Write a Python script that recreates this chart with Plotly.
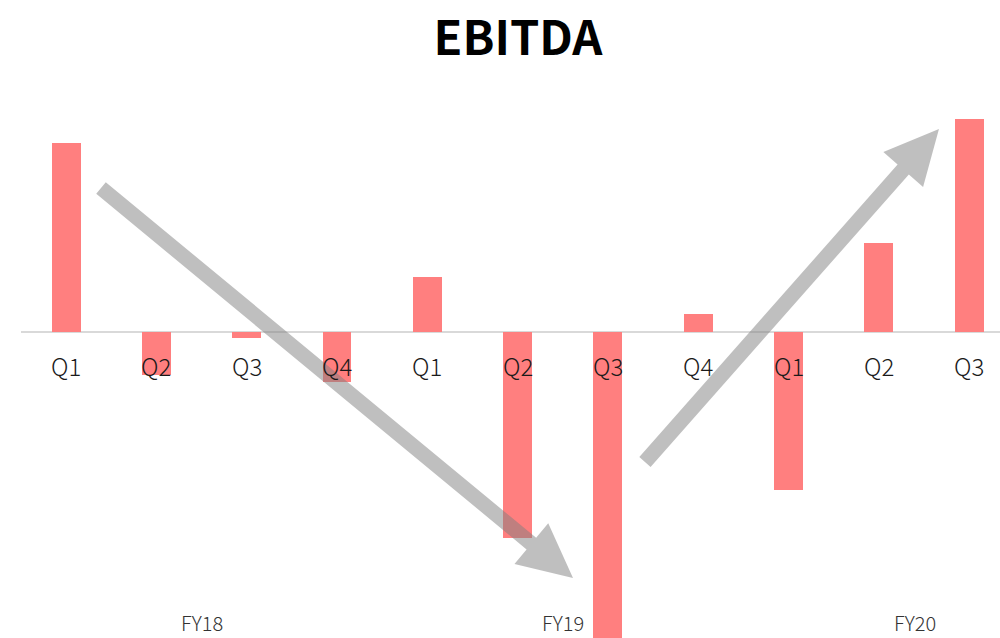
import numpy as np
import plotly.graph_objects as go

# Quarterly EBITDA (arbitrary units)
quarters = ["Q1", "Q2", "Q3", "Q4", "Q1", "Q2", "Q3", "Q4", "Q1", "Q2", "Q3"]
fiscal_years = ["FY18", "FY19", "FY20"]
ebitda = [189, -43, -6, -50, 55, -206, -340, 18, -158, 89, 213]

BAR_COLOR = "#FF7F7F"
ARROW_COLOR = "rgba(128,128,128,0.5)"
FONT = "Noto Sans CJK JP"

W, H = 1000, 638
M_L, M_R, M_T, M_B = 21, 0, 100, 0
X_RANGE = [-0.5, 10.342]
Y_RANGE = [-306, 232]

x_idx = np.arange(len(ebitda))

fig = go.Figure(
    go.Bar(
        x=x_idx,
        y=ebitda,
        width=0.32,
        marker=dict(color=BAR_COLOR, line=dict(width=0)),
        hoverinfo="skip",
    )
)

# pixel scale of the plot area, used to give the arrows a constant on-screen thickness
px_per_x = (W - M_L - M_R) / (X_RANGE[1] - X_RANGE[0])
px_per_y = (H - M_T - M_B) / (Y_RANGE[1] - Y_RANGE[0])


def arrow_path(start, tip, shaft=15.0, head_w=53.0, head_len=54.0):
    """Block arrow outline in data coordinates, sized in screen pixels."""
    sx, sy = start[0] * px_per_x, start[1] * px_per_y
    tx, ty = tip[0] * px_per_x, tip[1] * px_per_y
    d = np.array([tx - sx, ty - sy])
    u = d / np.linalg.norm(d)
    n = np.array([-u[1], u[0]])
    S = np.array([sx, sy])
    T = np.array([tx, ty])
    B = T - u * head_len
    pts = [
        S + n * shaft / 2,
        B + n * shaft / 2,
        B + n * head_w / 2,
        T,
        B - n * head_w / 2,
        B - n * shaft / 2,
        S - n * shaft / 2,
    ]
    coords = [(p[0] / px_per_x, p[1] / px_per_y) for p in pts]
    return "M " + " L ".join(f"{x:.4f},{y:.4f}" for x, y in coords) + " Z"


# trend arrows: decline into FY19 Q3, then recovery
arrows = [((0.386, 144), (5.613, -246)), ((6.41, -130), (9.666, 203))]
shapes = [
    dict(
        type="path",
        path=arrow_path(s, t),
        xref="x",
        yref="y",
        fillcolor=ARROW_COLOR,
        line=dict(width=0),
        layer="above",
    )
    for s, t in arrows
]

annotations = []
for i, q in zip(x_idx, quarters):
    annotations.append(
        dict(
            x=i, y=0, xref="x", yref="y", text=q, showarrow=False,
            yanchor="middle", yshift=-33,
            font=dict(family=FONT, size=24, color="#1a1a1a", weight=300),
        )
    )

fy_centers = [1.5, 5.5, 9.4]
for fy, cx in zip(fiscal_years, fy_centers):
    annotations.append(
        dict(
            x=cx, y=0, xref="x", yref="paper", text=fy, showarrow=False,
            yanchor="bottom", yshift=0, borderpad=0,
            font=dict(family=FONT, size=20, color="#333333", weight=300),
        )
    )

fig.update_layout(
    width=W,
    height=H,
    margin=dict(l=M_L, r=M_R, t=M_T, b=M_B, pad=0),
    paper_bgcolor="white",
    plot_bgcolor="white",
    showlegend=False,
    title=dict(
        text="<b>EBITDA</b>",
        x=0.518, xanchor="center", xref="container",
        y=1 - 39 / H, yanchor="middle", yref="container",
        font=dict(family=FONT, size=47, color="#000000"),
    ),
    xaxis=dict(
        range=X_RANGE, visible=False, showgrid=False, zeroline=False, fixedrange=True,
    ),
    yaxis=dict(
        range=Y_RANGE, showgrid=False, showticklabels=False, ticks="",
        zeroline=True, zerolinecolor="#D9D9D9", zerolinewidth=1.5,
        showline=False, fixedrange=True,
    ),
    shapes=shapes,
    annotations=annotations,
    bargap=0,
)

fig.write_html("out.html")
